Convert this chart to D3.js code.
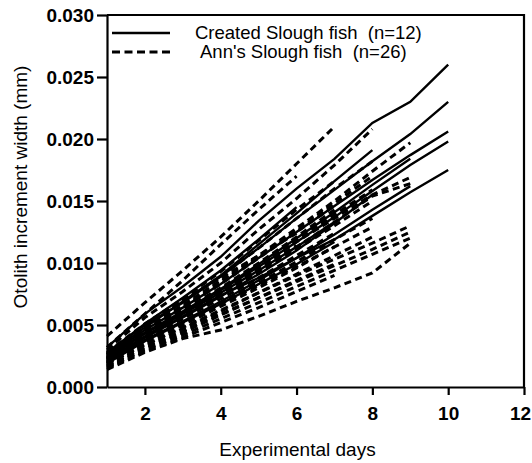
<!DOCTYPE html>
<html>
<head>
<meta charset="utf-8">
<script src="https://cdn.jsdelivr.net/npm/d3@7"></script>
<style>
  body { margin: 0; background: #fff; }
  svg { display: block; font-family: "Liberation Sans", Arial, sans-serif; }
</style>
</head>
<body>
<svg id="chart"></svg>
<script>
// experimental days (x values), one per measurement
const days = [1, 2, 3, 4, 5, 6, 7, 8, 9, 10];

// Created Slough fish (n=12), increment width in mm, day 1 onward
const createdSlough = [
  [0.0032, 0.0059, 0.0081, 0.0105, 0.0134, 0.0160, 0.0184, 0.0213, 0.0230, 0.0260],
  [0.0028, 0.0050, 0.0068, 0.0089, 0.0112, 0.0136, 0.0159, 0.0182, 0.0204, 0.0230],
  [0.0025, 0.0046, 0.0064, 0.0083, 0.0104, 0.0125, 0.0146, 0.0167, 0.0187, 0.0206],
  [0.0023, 0.0043, 0.0060, 0.0078, 0.0097, 0.0117, 0.0137, 0.0158, 0.0179, 0.0198],
  [0.0021, 0.0040, 0.0057, 0.0074, 0.0088, 0.0104, 0.0119, 0.0138, 0.0157, 0.0175],
  [0.0026, 0.0048, 0.0069, 0.0090, 0.0115, 0.0140, 0.0166, 0.0191],
  [0.0024, 0.0044, 0.0061, 0.0079, 0.0099, 0.0120, 0.0141, 0.0163, 0.0184],
  [0.0021, 0.0040, 0.0056, 0.0073, 0.0091, 0.0110, 0.0132, 0.0155],
  [0.0019, 0.0037, 0.0052, 0.0067, 0.0083, 0.0099, 0.0117],
  [0.0027, 0.0051, 0.0072, 0.0094, 0.0119, 0.0145],
  [0.0022, 0.0041, 0.0059, 0.0076, 0.0094, 0.0113, 0.0133],
  [0.0020, 0.0038, 0.0053, 0.0069, 0.0086, 0.0104, 0.0123, 0.0143, 0.0162]
];

// Ann's Slough fish (n=26)
const annsSlough = [
  [0.0041, 0.0068, 0.0094, 0.0121, 0.0150, 0.0180, 0.0210],
  [0.0032, 0.0059, 0.0086, 0.0115, 0.0143, 0.0170],
  [0.0030, 0.0056, 0.0077, 0.0100, 0.0127, 0.0152, 0.0179, 0.0208],
  [0.0026, 0.0047, 0.0066, 0.0086, 0.0106, 0.0128, 0.0150, 0.0174, 0.0197],
  [0.0023, 0.0043, 0.0060, 0.0078, 0.0097, 0.0117, 0.0136, 0.0155, 0.0169],
  [0.0028, 0.0051, 0.0071, 0.0093, 0.0118, 0.0143, 0.0166],
  [0.0026, 0.0049, 0.0069, 0.0089, 0.0112, 0.0136, 0.0160, 0.0182],
  [0.0024, 0.0045, 0.0064, 0.0083, 0.0104, 0.0125, 0.0146],
  [0.0023, 0.0043, 0.0061, 0.0079, 0.0099, 0.0119, 0.0139, 0.0159],
  [0.0022, 0.0042, 0.0060, 0.0077, 0.0096, 0.0114],
  [0.0021, 0.0040, 0.0057, 0.0074, 0.0092, 0.0111, 0.0130, 0.0150],
  [0.0020, 0.0039, 0.0055, 0.0071, 0.0088, 0.0106, 0.0124],
  [0.0019, 0.0037, 0.0052, 0.0068, 0.0084, 0.0101, 0.0119, 0.0136],
  [0.0027, 0.0050, 0.0070, 0.0088, 0.0106, 0.0124],
  [0.0024, 0.0044, 0.0062, 0.0080, 0.0100, 0.0121, 0.0143],
  [0.0022, 0.0041, 0.0058, 0.0076, 0.0094, 0.0113, 0.0133, 0.0154, 0.0164],
  [0.0018, 0.0035, 0.0050, 0.0065, 0.0080, 0.0096, 0.0113],
  [0.0017, 0.0033, 0.0047, 0.0061, 0.0076, 0.0091, 0.0106, 0.0121],
  [0.0016, 0.0031, 0.0044, 0.0058, 0.0072, 0.0086, 0.0099],
  [0.0025, 0.0046, 0.0065, 0.0085, 0.0105, 0.0126, 0.0148, 0.0170],
  [0.0015, 0.0029, 0.0040, 0.0052, 0.0064, 0.0077, 0.0090],
  [0.0014, 0.0028, 0.0039, 0.0046, 0.0057, 0.0069, 0.0080, 0.0092, 0.0116],
  [0.0019, 0.0034, 0.0048, 0.0062, 0.0076, 0.0090, 0.0103, 0.0116, 0.0130],
  [0.0017, 0.0032, 0.0045, 0.0059, 0.0072, 0.0085, 0.0098, 0.0111, 0.0125],
  [0.0016, 0.0030, 0.0042, 0.0055, 0.0068, 0.0081, 0.0094, 0.0107, 0.0120],
  [0.0020, 0.0037, 0.0052, 0.0067, 0.0082, 0.0097, 0.0113, 0.0129]
];

const xTicks = [2, 4, 6, 8, 10, 12];
const yTicks = [0, 0.005, 0.010, 0.015, 0.020, 0.025, 0.030];
const legendLabels = ["Created Slough fish  (n=12)", "Ann's Slough fish  (n=26)"];

const width = 532, height = 463;
const margin = { top: 15, right: 8, bottom: 76, left: 107 };
const innerW = width - margin.left - margin.right;
const innerH = height - margin.top - margin.bottom;

const svg = d3.select('#chart')
  .attr('width', width)
  .attr('height', height);

const chart = svg.append('g')
  .attr('transform', `translate(${margin.left},${margin.top})`);

const xScale = d3.scaleLinear().domain([1, 12]).range([0, innerW]);
const yScale = d3.scaleLinear().domain([0, 0.030]).range([innerH, 0]);

const line = d3.line()
  .x((d, i) => xScale(days[i]))
  .y(d => yScale(d));

// frame: top and right edges
chart.append('path')
  .attr('d', `M0,0H${innerW}V${innerH}`)
  .attr('fill', 'none')
  .attr('stroke', '#000')
  .attr('stroke-width', 2.2);

// axes
const xAxis = chart.append('g')
  .attr('transform', `translate(0,${innerH})`)
  .call(d3.axisBottom(xScale).tickValues(xTicks).tickSize(8).tickPadding(8).tickSizeOuter(0));

const yAxis = chart.append('g')
  .call(d3.axisLeft(yScale).tickValues(yTicks).tickFormat(d3.format('.3f')).tickSize(10).tickPadding(3).tickSizeOuter(0));

[xAxis, yAxis].forEach(ax => {
  ax.select('.domain').attr('stroke-width', 2.2);
  ax.selectAll('.tick line').attr('stroke-width', 2.2);
  ax.selectAll('.tick text')
    .attr('font-size', 19)
    .attr('font-weight', 'bold')
    .attr('font-family', '"Liberation Sans", Arial, sans-serif')
    .attr('fill', '#000');
});
xAxis.selectAll('.tick text').attr('dy', '0.9em');
// last label sits against the page edge
xAxis.selectAll('.tick text').filter(d => d === 12).attr('dx', -4);

// series
chart.append('g').selectAll('path')
  .data(annsSlough)
  .join('path')
  .attr('d', line)
  .attr('fill', 'none')
  .attr('stroke', '#000')
  .attr('stroke-width', 3)
  .attr('stroke-dasharray', '7,4.5');

chart.append('g').selectAll('path')
  .data(createdSlough)
  .join('path')
  .attr('d', line)
  .attr('fill', 'none')
  .attr('stroke', '#000')
  .attr('stroke-width', 2.4);

// legend
const legend = svg.append('g');
const legendY = [33, 52];
legend.selectAll('line')
  .data(legendLabels)
  .join('line')
  .attr('x1', 112).attr('x2', 170)
  .attr('y1', (d, i) => legendY[i]).attr('y2', (d, i) => legendY[i])
  .attr('stroke', '#000')
  .attr('stroke-width', (d, i) => i === 0 ? 2.4 : 3)
  .attr('stroke-dasharray', (d, i) => i === 0 ? null : '8,4.5');

legend.selectAll('text')
  .data(legendLabels)
  .join('text')
  .attr('x', (d, i) => i === 0 ? 195 : 200)
  .attr('y', (d, i) => legendY[i] + 6)
  .attr('font-size', 18.5)
  .attr('xml:space', 'preserve')
  .style('white-space', 'pre')
  .text(d => d);

// axis titles
svg.append('text')
  .attr('x', margin.left + innerW / 2 - 18)
  .attr('y', 456)
  .attr('text-anchor', 'middle')
  .attr('font-size', 19)
  .text('Experimental days');

svg.append('text')
  .attr('transform', `translate(27,${margin.top + innerH / 2 - 14}) rotate(-90)`)
  .attr('text-anchor', 'middle')
  .attr('font-size', 19)
  .text('Otolith increment width (mm)');
</script>
</body>
</html>
